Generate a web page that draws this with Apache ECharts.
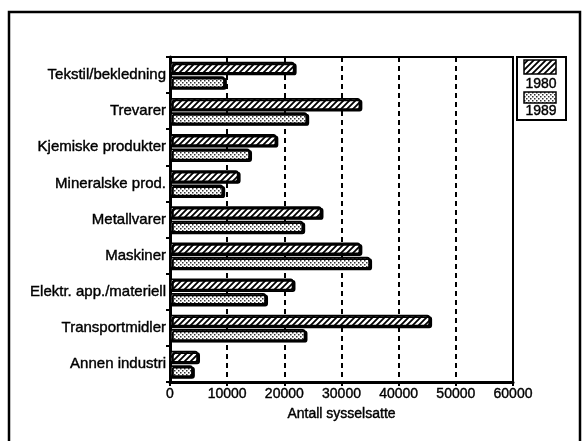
<!DOCTYPE html>
<html>
<head>
<meta charset="utf-8">
<script src="https://cdn.jsdelivr.net/npm/echarts@6/dist/echarts.min.js"></script>
<style>
html,body{margin:0;padding:0;background:#fff;}
#c{width:584px;height:441px;}
</style>
</head>
<body>
<div id="c"></div>
<script>
const categories = ['Tekstil/bekledning','Trevarer','Kjemiske produkter','Mineralske prod.','Metallvarer','Maskiner','Elektr. app./materiell','Transportmidler','Annen industri'];
const values1980 = [21800, 33300, 18600, 12000, 26500, 33300, 21600, 45500, 4900];
const values1989 = [9600, 24000, 14000, 9300, 23300, 35000, 16800, 23700, 4000];
const seriesNames = ['1980', '1989'];
const xTicks = [0, 10000, 20000, 30000, 40000, 50000, 60000];
const xAxisName = 'Antall sysselsatte';

function hatchPattern(){
  const c = document.createElement('canvas');
  c.width = 6; c.height = 6;
  const g = c.getContext('2d');
  g.fillStyle = '#fff'; g.fillRect(0,0,6,6);
  g.strokeStyle = '#000'; g.lineWidth = 1.8;
  g.beginPath();
  g.moveTo(-1,7); g.lineTo(7,-1);
  g.moveTo(-4,4); g.lineTo(4,-4);
  g.moveTo(2,10); g.lineTo(10,2);
  g.stroke();
  return c;
}
function dotPattern(){
  const c = document.createElement('canvas');
  c.width = 4; c.height = 4;
  const g = c.getContext('2d');
  g.fillStyle = '#fff'; g.fillRect(0,0,4,4);
  g.fillStyle = '#333';
  g.fillRect(0,0,1.5,1.5);
  g.fillRect(2,2,1.5,1.5);
  return c;
}
const hatch = {image: hatchPattern(), repeat: 'repeat'};
const dots = {image: dotPattern(), repeat: 'repeat'};

const font = 'Liberation Sans';
const txt = {fontFamily: font, fontSize: 14, color: '#000', textBorderColor: '#000', textBorderWidth: 0.4};
const chart = echarts.init(document.getElementById('c'), null, {renderer: 'canvas'});
const barStyle = (fill) => ({
  color: fill, borderColor: '#000', borderWidth: 1.8,
  borderRadius: [0, 2, 2, 0],
  shadowColor: '#000', shadowOffsetX: 2, shadowOffsetY: 1.5, shadowBlur: 0
});
chart.setOption({
  animation: false,
  backgroundColor: '#fff',
  grid: {left: 170, right: 71, top: 57, bottom: 59, show: true, borderColor: '#000', borderWidth: 2},
  xAxis: {
    type: 'value', min: xTicks[0], max: xTicks[xTicks.length-1], interval: 10000,
    name: xAxisName, nameLocation: 'middle', nameGap: 25,
    nameTextStyle: txt,
    axisLine: {show: true, lineStyle: {color: '#000', width: 3}},
    axisTick: {show: true, length: 4, lineStyle: {color: '#000', width: 2}},
    axisLabel: Object.assign({}, txt, {margin: 5, formatter: (v) => String(v)}),
    splitLine: {show: true, lineStyle: {color: '#000', width: 2, type: [5, 4]}}
  },
  yAxis: {
    type: 'category', data: categories, inverse: true,
    axisLine: {show: true, lineStyle: {color: '#000', width: 3}},
    axisTick: {show: true, length: 4, lineStyle: {color: '#000', width: 2}},
    axisLabel: Object.assign({}, txt, {fontSize: 15, margin: 4, padding: [8, 0, 0, 0]}),
    splitLine: {show: false}
  },
  series: [
    {name: seriesNames[0], type: 'bar', data: values1980, barWidth: 12, barGap: '20%', itemStyle: barStyle(hatch)},
    {name: seriesNames[1], type: 'bar', data: values1989, barWidth: 12, barGap: '20%', itemStyle: barStyle(dots)}
  ],
  graphic: [
    {type: 'rect', shape: {x: 9, y: 12, width: 571, height: 440}, style: {fill: 'none', stroke: '#000', lineWidth: 2.5}},
    {type: 'rect', shape: {x: 517, y: 57, width: 49, height: 63}, style: {fill: 'none', stroke: '#000', lineWidth: 2}},
    {type: 'rect', shape: {x: 524, y: 60, width: 32, height: 14}, style: {fill: hatch, stroke: '#000', lineWidth: 1.5}},
    {type: 'text', x: 541, y: 84, style: {text: seriesNames[0], font: '14px Liberation Sans', fill: '#000', stroke: '#000', lineWidth: 0.4, textAlign: 'center', textVerticalAlign: 'middle'}},
    {type: 'rect', shape: {x: 524, y: 92, width: 32, height: 11}, style: {fill: dots, stroke: '#000', lineWidth: 1.5}},
    {type: 'text', x: 541, y: 111, style: {text: seriesNames[1], font: '14px Liberation Sans', fill: '#000', stroke: '#000', lineWidth: 0.4, textAlign: 'center', textVerticalAlign: 'middle'}}
  ]
});
</script>
</body>
</html>
